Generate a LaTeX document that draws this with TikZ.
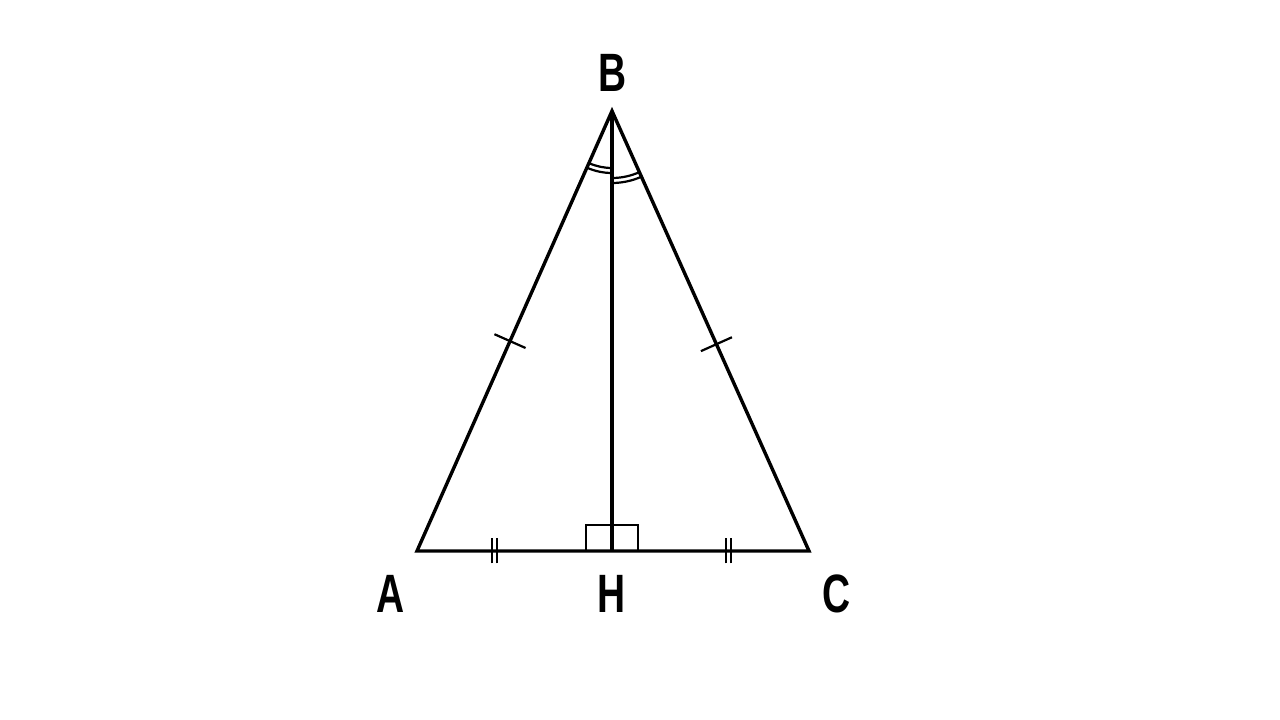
\documentclass[tikz,border=0pt]{standalone}
\usepackage{fontspec}
\setmainfont{Liberation Sans}
\usetikzlibrary{calc}
\tikzset{
  edge/.style={line width=3.4pt, line join=miter},
  thin mark/.style={line width=2.2pt},
  vlabel/.style={font=\fontsize{54}{54}\selectfont\bfseries, xscale=0.72, anchor=base, inner sep=0pt}
}
\begin{document}
\begin{tikzpicture}[x=1pt,y=1pt]
\useasboundingbox[fill=white] (0,0) rectangle (1280,720);
\coordinate (A) at (417,169);
\coordinate (B) at (612,609);
\coordinate (C) at (809,169);
\coordinate (H) at (612,169);
% triangle and altitude
\draw[edge] (A) -- (B) -- (C) -- cycle;
\draw[edge] (B) -- (H);
% right angle box
\coordinate (r1) at (586,169);
\coordinate (r2) at (638,195);
\draw[line width=2.8pt] (r1) |- (r2) -- (r2 |- H);
% single ticks on AB and BC
\coordinate (t1) at ($(A)!0.477!(B)$);
\coordinate (t2) at ($(C)!0.470!(B)$);
\draw[thin mark] ($(t1)!17pt!90:(B)$) -- ($(t1)!17pt!-90:(B)$);
\draw[thin mark] ($(t2)!17pt!90:(B)$) -- ($(t2)!17pt!-90:(B)$);
% double ticks on AH and HC
\foreach \x [count=\i] in {492,497,726,731}{
  \coordinate (d\i a) at (\x,156.5);
  \coordinate (d\i b) at (\x,181.5);
  \draw[thin mark] (d\i a) -- (d\i b);
}
% angle arcs at B
\draw[thin mark] ([shift={(246.1:57pt)}]B) arc[start angle=246.1, end angle=270, radius=57pt];
\draw[thin mark] ([shift={(246.1:62pt)}]B) arc[start angle=246.1, end angle=270, radius=62pt];
\draw[thin mark] ([shift={(270:67pt)}]B) arc[start angle=270, end angle=294.1, radius=67pt];
\draw[thin mark] ([shift={(270:72pt)}]B) arc[start angle=270, end angle=294.1, radius=72pt];
% labels
\node[vlabel] (lB) at (613,628) {B};
\node[vlabel] (lA) at (391,107) {A};
\node[vlabel] (lH) at (612,107) {H};
\node[vlabel] (lC) at (837,107) {C};
\end{tikzpicture}
\end{document}
